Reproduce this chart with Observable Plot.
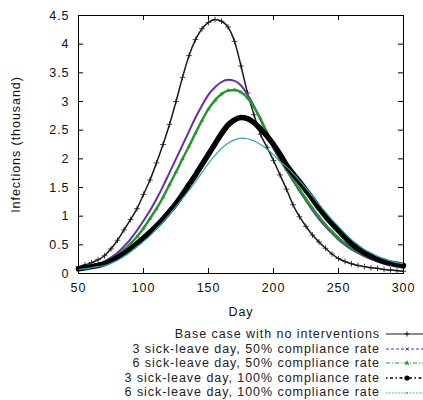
<!DOCTYPE html>
<html><head><meta charset="utf-8">
<script src="https://cdn.jsdelivr.net/npm/d3@7"></script>
<script src="https://cdn.jsdelivr.net/npm/@observablehq/plot@0.6"></script>
<style>
html,body{margin:0;padding:0;background:#fff;overflow:hidden;}
#chart{position:relative;width:423px;height:400px;}
#legend{position:absolute;left:0;top:327px;width:423px;font-family:'Liberation Sans',Arial,sans-serif;font-size:12.5px;letter-spacing:0.95px;color:#222;}
.row{display:flex;align-items:center;height:14.6px;}
.row span{display:block;width:380px;text-align:right;line-height:14.6px;white-space:nowrap;}
.row svg{margin-left:3px;display:block;}
</style></head><body><div id="chart"></div>
<script>
// ---- data ----
const days = d3.range(50, 301, 5);
const baseCase   = [0.12,0.15,0.19,0.24,0.31,0.43,0.58,0.76,0.94,1.13, 1.38,1.63,1.93,2.25,2.60,3.00,3.42,3.80,4.08,4.27, 4.38,4.43,4.40,4.30,4.05,3.62,3.15,2.77,2.43,2.20, 1.97,1.72,1.47,1.20,0.99,0.82,0.67,0.55,0.44,0.34, 0.26,0.21,0.17,0.14,0.12,0.10,0.09,0.07,0.06,0.05, 0.04];
const sick3_50   = [0.09,0.11,0.14,0.17,0.21,0.28,0.36,0.47,0.60,0.75, 0.92,1.10,1.30,1.52,1.76,2.00,2.24,2.48,2.72,2.93, 3.12,3.25,3.34,3.38,3.36,3.28,3.12,2.92,2.68,2.43, 2.18,1.98,1.80,1.62,1.44,1.27,1.10,0.95,0.82,0.70, 0.59,0.50,0.42,0.36,0.30,0.25,0.21,0.17,0.14,0.12, 0.10];
const sick6_50   = [0.09,0.10,0.12,0.15,0.19,0.25,0.32,0.41,0.52,0.64, 0.79,0.96,1.13,1.33,1.55,1.77,2.00,2.22,2.45,2.67, 2.87,3.02,3.13,3.19,3.20,3.16,3.06,2.90,2.70,2.46, 2.22,2.00,1.81,1.64,1.47,1.30,1.14,0.99,0.85,0.73, 0.62,0.53,0.45,0.38,0.32,0.27,0.23,0.19,0.16,0.13, 0.11];
const sick3_100  = [0.08,0.10,0.12,0.14,0.17,0.22,0.28,0.35,0.43,0.52, 0.62,0.72,0.83,0.95,1.08,1.22,1.38,1.55,1.72,1.90, 2.08,2.26,2.44,2.59,2.68,2.72,2.70,2.63,2.52,2.40, 2.25,2.08,1.89,1.74,1.60,1.45,1.30,1.14,1.00,0.87, 0.75,0.63,0.52,0.43,0.36,0.30,0.25,0.21,0.18,0.16, 0.14];
const sick6_100  = [0.07,0.08,0.10,0.12,0.14,0.18,0.23,0.30,0.38,0.47, 0.56,0.66,0.78,0.90,1.03,1.17,1.31,1.45,1.60,1.76, 1.92,2.06,2.18,2.27,2.33,2.36,2.35,2.31,2.25,2.17, 2.07,1.95,1.86,1.75,1.62,1.49,1.35,1.21,1.07,0.94, 0.82,0.70,0.59,0.50,0.42,0.36,0.30,0.26,0.22,0.19, 0.17];
const seriesNames = ["Base case with no interventions","3 sick-leave day, 50% compliance rate","6 sick-leave day, 50% compliance rate","3 sick-leave day, 100% compliance rate","6 sick-leave day, 100% compliance rate"];
const seriesValues = [baseCase, sick3_50, sick6_50, sick3_100, sick6_100];
const xTicks = [50,100,150,200,250,300];
const yTicks = [0,0.5,1,1.5,2,2.5,3,3.5,4,4.5];

// ---- styles ----
const colors = ["#1a1a1a","#6a2ca8","#1f9a2a","#000000","#2fa6ae"];
const widths = [1.5,2,2.4,5.5,1.2];
const legendDash = [null,"3,2","4,2,1,2","1.5,2.5,3,2.5","1.5,1.5"];

const rows = seriesValues.map((vals,i)=>vals.map((v,j)=>({day:days[j],value:v,series:seriesNames[i]})));

const W=423,H=322,mL=78,mR=20,mT=15,mB=49;
const innerW=W-mL-mR, innerH=H-mT-mB, tk=5;
const font="'Liberation Sans', Arial, sans-serif";

const marks = [
  Plot.axisX({ticks:xTicks,tickSize:0,tickPadding:10,tickFormat:d=>String(d),label:"Day",labelAnchor:"center",labelArrow:"none",labelOffset:42}),
  Plot.axisY({ticks:yTicks,tickSize:0,tickPadding:9,tickFormat:d=>String(d),label:"Infections (thousand)",labelAnchor:"center",labelArrow:"none",labelOffset:67}),
  Plot.tickX(xTicks,{x:d=>d,insetTop:innerH-tk,stroke:"#000"}),
  Plot.tickX(xTicks,{x:d=>d,insetBottom:innerH-tk,stroke:"#000"}),
  Plot.tickY(yTicks,{y:d=>d,insetRight:innerW-tk,stroke:"#000"}),
  Plot.tickY(yTicks,{y:d=>d,insetLeft:innerW-tk,stroke:"#000"})
];
rows.forEach((r,i)=>{
  marks.push(Plot.line(r,{x:"day",y:"value",stroke:colors[i],strokeWidth:widths[i],curve:"monotone-x"}));
  if(i===0) marks.push(Plot.dot(r,{x:"day",y:"value",symbol:"plus",r:2,stroke:colors[i],strokeWidth:0.8}));
  if(i===2) marks.push(Plot.dot(r,{x:"day",y:"value",symbol:"triangle",r:1.6,fill:colors[i]}));
});
marks.push(Plot.frame({stroke:"#000"}));

const chart = Plot.plot({
  width:W,height:H,marginLeft:mL,marginRight:mR,marginTop:mT,marginBottom:mB,
  style:{fontFamily:font,fontSize:"12.5px",letterSpacing:"0.95px",background:"#fff",color:"#111"},
  x:{domain:[50,300]},
  y:{domain:[0,4.5]},
  marks
});
const root=document.getElementById("chart");
root.appendChild(chart);

// ---- legend (below the svg) ----
const legend=document.createElement("div");
legend.id="legend";
seriesNames.forEach((name,i)=>{
  const row=document.createElement("div");row.className="row";
  const sp=document.createElement("span");sp.textContent=name;row.appendChild(sp);
  const s=d3.create("svg").attr("width",40).attr("height",14);
  s.append("line").attr("x1",3).attr("x2",40).attr("y1",7).attr("y2",7)
    .attr("stroke",i===3?"#000":colors[i]).attr("stroke-width",i===3?1.4:1)
    .attr("stroke-dasharray",legendDash[i]);
  const cx=24;
  if(i===0){s.append("path").attr("d",`M${cx-2.5},7H${cx+2.5}M${cx},4.5V9.5`).attr("stroke",colors[0]).attr("stroke-width",1);}
  if(i===1){s.append("path").attr("d",`M${cx-1.5},5.5L${cx+1.5},8.5M${cx+1.5},5.5L${cx-1.5},8.5`).attr("stroke",colors[1]).attr("stroke-width",1);}
  if(i===2){s.append("path").attr("d",`M${cx},4.3L${cx+2.4},8.6H${cx-2.4}Z`).attr("fill",colors[2]);}
  if(i===3){s.append("circle").attr("cx",cx).attr("cy",7).attr("r",2.6).attr("fill","#000");}
  if(i===4){s.append("circle").attr("cx",cx).attr("cy",7).attr("r",1).attr("fill",colors[4]);}
  row.appendChild(s.node());
  legend.appendChild(row);
});
root.appendChild(legend);
</script></body></html>
